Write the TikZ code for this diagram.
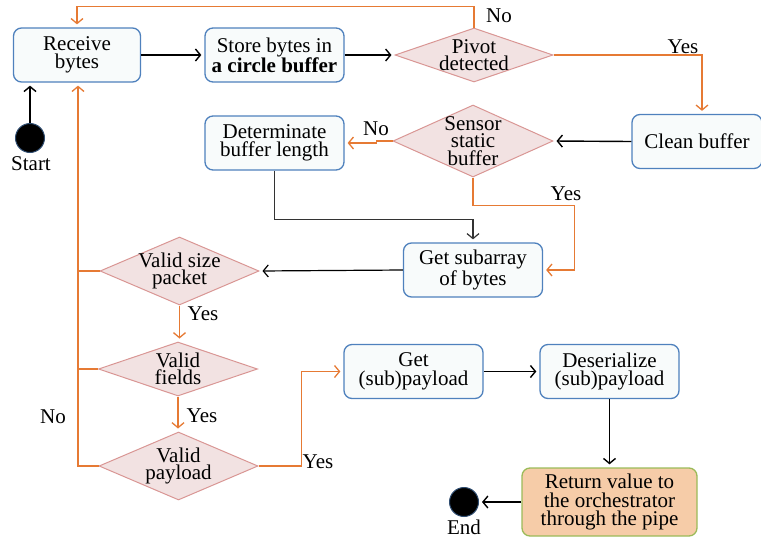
\documentclass[tikz,border=0pt]{standalone}
\usepackage{fontspec}
\setmainfont{Liberation Serif}
\usetikzlibrary{arrows.meta,shapes.geometric,calc}

\definecolor{flowor}{RGB}{230,122,52}
\definecolor{boxblue}{RGB}{79,129,189}
\definecolor{boxfill}{RGB}{248,251,251}
\definecolor{diaedge}{RGB}{217,150,148}
\definecolor{diafill}{RGB}{242,226,226}
\definecolor{retfill}{RGB}{246,204,168}
\definecolor{retedge}{RGB}{155,187,89}

\tikzset{
  procbox/.style={draw=boxblue, fill=boxfill, rounded corners=8pt, line width=1.3pt,
    minimum width=139pt, minimum height=54pt, inner sep=0pt, align=center},
  decide/.style={diamond, draw=diaedge, fill=diafill, line width=1pt, inner sep=0pt},
  dtext/.style={align=center, inner sep=0pt, font=\fontsize{21}{17.5}\selectfont},
  endpoint/.style={circle, fill=black, draw=boxblue!60!black, line width=1pt,
    minimum size=29pt, inner sep=0pt},
  lbl/.style={inner sep=0pt, anchor=base},
  tip/.style={-{Straight Barb[length=5pt,width=12pt]}},
  blk/.style={draw=black, line width=1.4pt, tip, shorten >=3pt},
  org/.style={draw=flowor, line width=1.3pt, tip, shorten >=3pt},
  orgline/.style={draw=flowor, line width=1.3pt},
}

\begin{document}
\begin{tikzpicture}[x=1pt, y=-1pt, font=\fontsize{21}{18.5}\selectfont]
\useasboundingbox (0,0) rectangle (761,539);

% process boxes
\node[procbox, minimum width=127pt] (recv) at (77,55) {Receive\\bytes};
\node[procbox] (store) at (274.5,55) {Store bytes in\\\textbf{a circle buffer}};
\node[procbox, minimum width=130pt] (clean) at (697,141.5) {Clean buffer};
\node[procbox] (det) at (274.5,143) {Determinate\\buffer length};
\node[procbox] (sub) at (473,270) {Get subarray\\of bytes};
\node[procbox] (getp) at (413.5,371.5) {Get\\(sub)payload};
\node[procbox] (deser) at (609.5,371.5) {Deserialize\\(sub)payload};
\node[procbox, draw=retedge, fill=retfill, minimum width=175pt, minimum height=68pt]
  (ret) at (609.5,502) {Return value to\\the orchestrator\\through the pipe};

% decisions
\node[decide, minimum width=158pt, minimum height=54pt] (piv) at (474,55) {};
\node[dtext] (piv-t) at (piv) {Pivot\\detected};
\node[decide, minimum width=160pt, minimum height=72pt] (sens) at (473,141) {};
\node[dtext] (sens-t) at (sens) {Sensor\\static\\buffer};
\node[decide, minimum width=159pt, minimum height=68pt] (vsize) at (179.5,271) {};
\node[dtext] (vsize-t) at (vsize) {Valid size\\packet};
\node[decide, minimum width=159pt, minimum height=54pt] (vfld) at (178,369) {};
\node[dtext] (vfld-t) at (vfld) {Valid\\fields};
\node[decide, minimum width=159pt, minimum height=68pt] (vpay) at (178.5,466) {};
\node[dtext] (vpay-t) at (vpay) {Valid\\payload};

% start / end
\node[endpoint] (start) at (30,138) {};
\node[lbl] (start-l) at (31,170) {Start};
\node[endpoint] (fin) at (464,502) {};
\node[lbl] (fin-l) at (464,534) {End};

% vertical rail of the failure path
\coordinate (rail) at ([xshift=1pt]recv.south);

% main flow
\draw[blk] (start.north) -- (start.north |- recv.south);
\draw[blk] (recv) -- (store);
\draw[blk] (store) -- (piv);
\draw[org] (piv.north) -- ++(0,-21) -| (recv.north);
\draw[org] (piv.east) -| ([xshift=5pt]clean.north);
\draw[blk] (clean.west) -- (sens.east);
\draw[org] (sens.west) -- ++(-16,0) |- (det.east);
\draw[org] (sens.south) -- ++(0,28) -| ($(sub.east)+(31,0)$) -- (sub.east);
\draw[blk, draw=black!80, line width=1.2pt] (det.south) -- ++(0,49) -| (sub.north);
\draw[blk, line width=1.2pt] (sub.west) -- (vsize.east);
\draw[org] (vsize.south) -- (vsize.south |- vfld.north);
\draw[org] (vfld.south) -- (vfld.south |- vpay.north);
\draw[org] (vpay.east) -- ++(43,0) |- (getp.west);
\draw[blk] (getp) -- (deser);
\draw[blk] (deser.south) -- (ret.north);
\draw[blk] (ret.west) -- (fin.east);

% failure path back to the receiver
\draw[org] (vpay.west) -| (rail);
\draw[orgline] (vsize.west) -- (vsize.west -| rail);
\draw[orgline] (vfld.west) -- (vfld.west -| rail);

% branch labels
\node[lbl] (l1) at (499,22) {No};
\node[lbl] (l2) at (683,53) {Yes};
\node[lbl] (l3) at (376,135) {No};
\node[lbl] (l4) at (566,200) {Yes};
\node[lbl] (l5) at (203,320) {Yes};
\node[lbl] (l6) at (202,422) {Yes};
\node[lbl] (l7) at (318,468) {Yes};
\node[lbl] (l8) at (53,423) {No};
\end{tikzpicture}
\end{document}
